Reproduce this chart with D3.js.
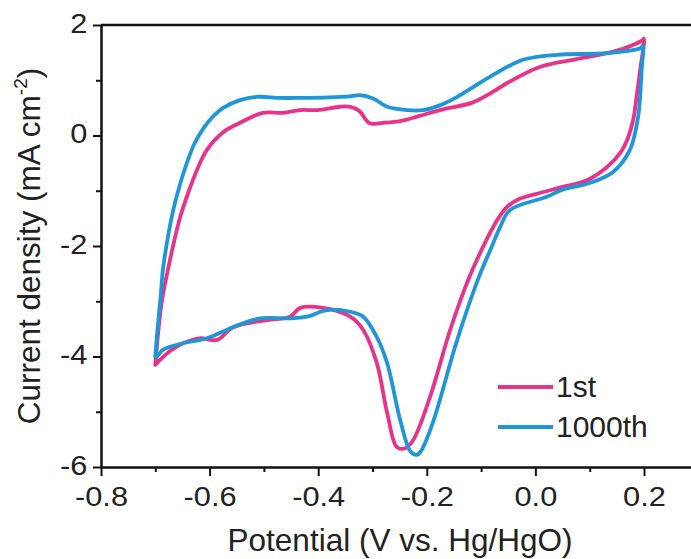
<!DOCTYPE html>
<html>
<head>
<meta charset="utf-8">
<script src="https://cdn.jsdelivr.net/npm/d3@7"></script>
<style>
  html, body { margin: 0; padding: 0; background: #fff; }
  svg { display: block; }
  text { font-family: "Liberation Sans", Arial, sans-serif; fill: #222; }
</style>
</head>
<body>
<svg id="chart" width="691" height="559"></svg>
<script>
// ---- data ----
const seriesNames = ["1st", "1000th"];
const seriesColors = ["#E8338A", "#1E96D8"];

const potential1st = [-0.700,-0.695,-0.688,-0.678,-0.665,-0.654,-0.638,-0.623,-0.605,-0.575,-0.544,-0.502,-0.465,-0.433,-0.402,-0.360,-0.341,-0.325,-0.305,-0.281,-0.249,-0.215,-0.176,-0.115,-0.080,-0.052,0.008,0.069,0.132,0.170,0.198,
  0.200,0.193,0.185,0.180,0.169,0.156,0.132,0.095,0.050,0.008,-0.030,-0.052,-0.065,-0.078,-0.102,-0.124,-0.157,-0.194,-0.225,-0.240,-0.255,-0.273,-0.292,-0.317,-0.341,-0.391,-0.433,-0.452,-0.494,-0.557,-0.586,-0.618,-0.649,-0.678,-0.697,-0.700];
const current1st = [-4.15,-3.6,-3.0,-2.49,-1.9,-1.47,-1.0,-0.62,-0.26,0.06,0.23,0.41,0.41,0.46,0.46,0.52,0.52,0.45,0.22,0.23,0.26,0.35,0.46,0.60,0.78,0.95,1.24,1.37,1.49,1.60,1.73,
  1.75,1.19,0.60,0.28,-0.08,-0.32,-0.57,-0.81,-0.93,-1.04,-1.15,-1.29,-1.45,-1.66,-2.13,-2.62,-3.52,-4.73,-5.51,-5.66,-5.64,-5.02,-4.12,-3.52,-3.28,-3.12,-3.12,-3.28,-3.34,-3.47,-3.70,-3.67,-3.76,-3.94,-4.12,-4.15];

const potential1000th = [-0.700,-0.695,-0.690,-0.686,-0.677,-0.667,-0.655,-0.642,-0.628,-0.612,-0.595,-0.575,-0.544,-0.513,-0.470,-0.433,-0.380,-0.341,-0.323,-0.299,-0.273,-0.236,-0.207,-0.175,-0.144,-0.084,-0.023,0.040,0.132,0.193,0.198,
  0.196,0.189,0.174,0.143,0.100,0.050,0.021,-0.047,-0.065,-0.082,-0.104,-0.144,-0.189,-0.210,-0.218,-0.230,-0.249,-0.273,-0.292,-0.317,-0.341,-0.384,-0.421,-0.452,-0.507,-0.557,-0.605,-0.649,-0.686,-0.697,-0.700];
const current1000th = [-4.0,-3.4,-2.9,-2.43,-1.85,-1.35,-0.9,-0.5,-0.15,0.12,0.33,0.50,0.64,0.70,0.68,0.68,0.69,0.71,0.73,0.67,0.52,0.46,0.46,0.55,0.70,1.06,1.37,1.46,1.49,1.58,1.62,
  1.24,0.33,-0.26,-0.66,-0.86,-0.98,-1.11,-1.35,-1.66,-2.05,-2.56,-3.70,-5.2,-5.7,-5.78,-5.72,-5.15,-4.12,-3.65,-3.28,-3.19,-3.16,-3.28,-3.31,-3.31,-3.47,-3.67,-3.76,-3.88,-4.0,-4.0];

const xMajorTicks = [-0.8,-0.6,-0.4,-0.2,0.0,0.2];
const xTickLabels = ["-0.8","-0.6","-0.4","-0.2","0.0","0.2"];
const xMinorTicks = [-0.7,-0.5,-0.3,-0.1,0.1];
const yMajorTicks = [-6,-4,-2,0,2];
const yTickLabels = ["-6","-4","-2","0","2"];
const yMinorTicks = [-5,-3,-1,1];

// ---- layout ----
const svg = d3.select("#chart");
const plotLeft = 101, plotTop = 25, plotBottom = 467;
const x = d3.scaleLinear().domain([-0.8, 0.3]).range([plotLeft, plotLeft + 1.1 * 543]);
const y = d3.scaleLinear().domain([-6, 2]).range([plotBottom, plotTop]);
const tickFont = 28;

// top border
svg.append("line")
  .attr("x1", plotLeft).attr("x2", x(0.3)).attr("y1", plotTop).attr("y2", plotTop)
  .attr("stroke", "#111").attr("stroke-width", 2.5);

// curves
const series = [
  { name: seriesNames[0], color: seriesColors[0], xs: potential1st, ys: current1st },
  { name: seriesNames[1], color: seriesColors[1], xs: potential1000th, ys: current1000th }
];
const line = d3.line().x(d => x(d[0])).y(d => y(d[1])).curve(d3.curveCatmullRom.alpha(0.5));
series.forEach(s => {
  svg.append("path")
    .datum(s.xs.map((v, i) => [v, s.ys[i]]))
    .attr("d", line)
    .attr("fill", "none")
    .attr("stroke", s.color)
    .attr("stroke-width", 3.8)
    .attr("stroke-linejoin", "round")
    .attr("stroke-linecap", "round");
});

// x axis
const xAxis = svg.append("g").attr("transform", `translate(0,${plotBottom})`)
  .call(d3.axisBottom(x).tickValues(xMajorTicks).tickSize(9).tickSizeOuter(0)
    .tickFormat((d, i) => xTickLabels[i]));
svg.append("g").attr("transform", `translate(0,${plotBottom})`)
  .call(d3.axisBottom(x).tickValues(xMinorTicks).tickSize(5).tickSizeOuter(0).tickFormat(""))
  .select(".domain").remove();

// y axis
const yAxis = svg.append("g").attr("transform", `translate(${plotLeft},0)`)
  .call(d3.axisLeft(y).tickValues(yMajorTicks).tickSize(8).tickSizeOuter(0)
    .tickFormat((d, i) => yTickLabels[i]));
svg.append("g").attr("transform", `translate(${plotLeft},0)`)
  .call(d3.axisLeft(y).tickValues(yMinorTicks).tickSize(5).tickSizeOuter(0).tickFormat(""))
  .select(".domain").remove();

svg.selectAll(".domain").attr("stroke", "#111").attr("stroke-width", 2.5);
svg.selectAll(".tick line").attr("stroke", "#111").attr("stroke-width", 2);
xAxis.selectAll("text")
  .attr("font-size", tickFont).attr("fill", "#222")
  .attr("font-family", "Liberation Sans, Arial, sans-serif")
  .attr("y", 39).attr("dy", "0")
  .attr("transform", "scale(1.1,1)");
yAxis.selectAll("text")
  .attr("font-size", tickFont).attr("fill", "#222")
  .attr("font-family", "Liberation Sans, Arial, sans-serif")
  .attr("x", -12.5).attr("dy", "0.26em")
  .attr("transform", "scale(1.1,1)");

// axis titles
svg.append("text")
  .attr("x", 400).attr("y", 551)
  .attr("text-anchor", "middle")
  .attr("font-size", 31.5)
  .text("Potential (V vs. Hg/HgO)");

const yt = svg.append("text")
  .attr("transform", "translate(40,246) rotate(-90)")
  .attr("text-anchor", "middle")
  .attr("font-size", 31.5);
yt.append("tspan").text("Current density (mA cm");
yt.append("tspan").attr("font-size", 19).attr("dy", -13).text("-2");
yt.append("tspan").attr("dy", 13).text(")");

// legend
const legendY = [387, 427];
series.forEach((s, i) => {
  svg.append("line")
    .attr("x1", 498).attr("x2", 553)
    .attr("y1", legendY[i]).attr("y2", legendY[i])
    .attr("stroke", s.color).attr("stroke-width", 4);
  svg.append("text")
    .attr("x", 556).attr("y", legendY[i] + 10)
    .attr("font-size", 30)
    .text(s.name);
});
</script>
</body>
</html>
